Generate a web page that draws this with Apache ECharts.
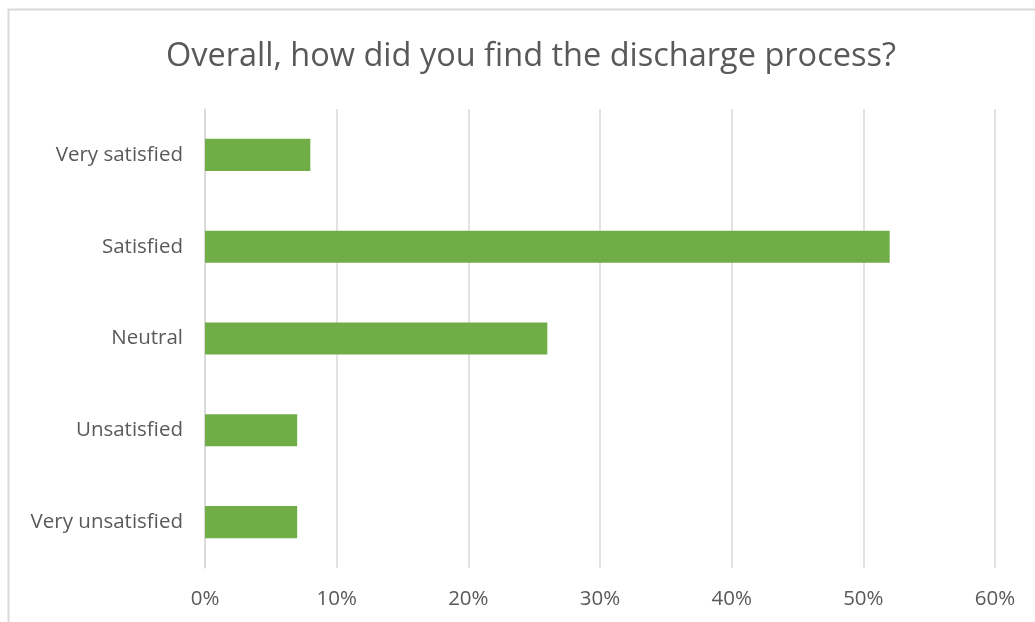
<!DOCTYPE html>
<html>
<head>
<meta charset="utf-8">
<script src="https://cdn.jsdelivr.net/npm/echarts@6/dist/echarts.min.js"></script>
<style>
  html, body { margin: 0; padding: 0; background: #ffffff; }
  #chart { width: 1035px; height: 622px; }
</style>
</head>
<body>
<div id="chart"></div>
<script>
// Survey responses, listed top to bottom
const categories = ['Very satisfied', 'Satisfied', 'Neutral', 'Unsatisfied', 'Very unsatisfied'];
const shares = [8, 52, 26, 7, 7];
const axisTicks = [0, 10, 20, 30, 40, 50, 60];

const textColor = '#595959';
const gridColor = '#d9d9d9';
const fontFamily = '"Open Sans", "Noto Sans", sans-serif';

const chart = echarts.init(document.getElementById('chart'), null, { renderer: 'canvas' });

chart.setOption({
  backgroundColor: '#ffffff',
  animation: false,
  title: {
    text: 'Overall, how did you find the discharge process?',
    left: 161,
    top: 35,
    textStyle: { color: textColor, fontSize: 32.5, fontWeight: 'normal', fontFamily: fontFamily }
  },
  graphic: [{
    type: 'rect',
    shape: { x: 8.5, y: 9.5, width: 1100, height: 700 },
    style: { fill: null, stroke: gridColor, lineWidth: 2 },
    silent: true
  }],
  grid: { left: 205, right: 40, top: 109, bottom: 54, containLabel: false },
  xAxis: {
    type: 'value',
    min: axisTicks[0],
    max: axisTicks[axisTicks.length - 1],
    interval: 10,
    axisLine: { show: false },
    axisTick: { show: false },
    splitLine: { show: true, lineStyle: { color: gridColor, width: 1.5 } },
    axisLabel: {
      formatter: v => v + '%',
      color: textColor,
      fontSize: 20.5,
      fontFamily: fontFamily,
      margin: 21
    }
  },
  yAxis: {
    type: 'category',
    data: categories,
    inverse: true,
    axisLine: { show: true, lineStyle: { color: gridColor, width: 1.5 } },
    axisTick: { show: false },
    axisLabel: {
      color: textColor,
      fontSize: 20.5,
      fontFamily: fontFamily,
      margin: 22
    }
  },
  series: [{
    type: 'bar',
    data: shares,
    barWidth: '35%',
    itemStyle: { color: '#70ad47' },
    silent: true
  }]
});
</script>
</body>
</html>
